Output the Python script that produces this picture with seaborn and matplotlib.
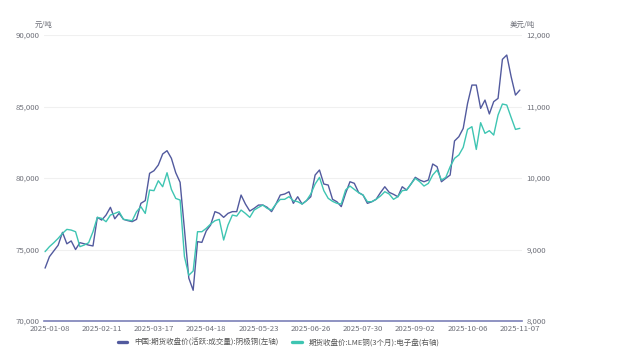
import pandas as pd
import numpy as np
import seaborn as sns
import matplotlib.pyplot as plt
from matplotlib.lines import Line2D

# 中国期货收盘价(活跃:成交量):阴极铜, 元/吨 (left axis)
cn_price = [
    73700, 74500, 74900, 75300, 76200, 75400, 75600, 75000, 75480, 75400,
    75310, 75250, 77250, 77060, 77410, 77950, 77150, 77530, 77110, 77020,
    76950, 77110, 78230, 78420, 80330, 80510, 80910, 81680, 81910, 81380,
    80370, 79700, 76400, 73000, 72150, 75550, 75500, 76300, 76710, 77650,
    77530, 77250, 77530, 77650, 77650, 78810, 78180, 77690, 77880, 78110,
    78110, 77950, 77650, 78180, 78810, 78880, 79040, 78230, 78690, 78180,
    78410, 78690, 80210, 80560, 79580, 79510, 78510, 78340, 78000, 78930,
    79740, 79630, 78980, 78810, 78230, 78340, 78510, 78980, 79390, 79000,
    78860, 78690, 79390, 79160, 79580, 80050, 79860, 79740, 79860, 80980,
    80790, 79740, 79980, 80210, 82590, 82890, 83470, 85220, 86500, 86500,
    84870, 85450, 84480, 85340, 85570, 88300, 88600, 87090, 85800, 86150,
]
# LME铜(3个月):电子盘, 美元/吨 (right axis)
lme_price = [
    8970, 9040, 9095, 9156, 9226, 9282, 9272, 9249, 9040, 9063,
    9095, 9249, 9450, 9436, 9389, 9482, 9505, 9529, 9422, 9412,
    9403, 9529, 9599, 9505, 9832, 9823, 9962, 9878, 10074, 9841,
    9715, 9692, 8900, 8640, 8700, 9249, 9249, 9296, 9356, 9403,
    9422, 9133, 9342, 9482, 9468, 9552, 9505, 9450, 9552, 9589,
    9622, 9575, 9552, 9636, 9701, 9702, 9739, 9683, 9669, 9636,
    9683, 9776, 9916, 10009, 9823, 9716, 9674, 9646, 9636, 9832,
    9888, 9841, 9795, 9762, 9669, 9669, 9702, 9748, 9809, 9776,
    9702, 9739, 9823, 9832, 9916, 9995, 9949, 9888, 9925, 10042,
    10112, 9972, 10009, 10158, 10275, 10322, 10429, 10680, 10718, 10400,
    10774, 10625, 10662, 10601, 10881, 11035, 11021, 10848, 10680, 10695,
]
date_labels = ["2025-01-08", "2025-02-11", "2025-03-17", "2025-04-18", "2025-05-23",
               "2025-06-26", "2025-07-30", "2025-09-02", "2025-10-06", "2025-11-07"]
label_first, label_step = 1, 12

name_cn = "中国:期货收盘价(活跃:成交量):阴极铜(左轴)"
name_lme = "期货收盘价:LME铜(3个月):电子盘(右轴)"
c_cn = "#525a9e"
c_lme = "#3ec5b2"

df = pd.DataFrame({"idx": np.arange(len(cn_price)), "cn": cn_price, "lme": lme_price})

sns.set_theme(style="white")
plt.rcParams['font.family'] = ['Noto Sans CJK SC', 'DejaVu Sans']

fig = plt.figure(figsize=(6.23, 3.52), dpi=100)
ax = fig.add_axes([0.0706, 0.088, 0.7673, 0.8125])
ax2 = ax.twinx()

sns.lineplot(data=df, x="idx", y="cn", ax=ax, color=c_cn, linewidth=1.0)
sns.lineplot(data=df, x="idx", y="lme", ax=ax2, color=c_lme, linewidth=1.0)

ax.set_ylim(70000, 90000)
ax2.set_ylim(8000, 12000)
ax.set_yticks(np.arange(70000, 90001, 5000))
ax2.set_yticks(np.arange(8000, 12001, 1000))
ax.set_yticklabels([f"{v:,}" for v in range(70000, 90001, 5000)])
ax2.set_yticklabels([f"{v:,}" for v in range(8000, 12001, 1000)])
ax.set_xlim(-0.25, len(cn_price) - 0.5)
ax.set_xticks([label_first + label_step * k for k in range(len(date_labels))])
ax.set_xticklabels(date_labels)
ax.set_xlabel("")
ax.set_ylabel("")
ax2.set_ylabel("")

ax.yaxis.grid(True, color="#f0f0f0", linewidth=0.8)
ax.set_axisbelow(True)
for a in (ax, ax2):
    for s in a.spines.values():
        s.set_visible(False)
    a.tick_params(length=0, labelsize=5.6, colors="#6e7079", pad=3)
ax.spines["bottom"].set_visible(True)
ax.spines["bottom"].set_color("#7c80b8")
ax.spines["bottom"].set_linewidth(1.2)

ax.text(0.0, 1.022, "元/吨", transform=ax.transAxes, fontsize=5.4, color="#6e7079", ha="center", va="bottom")
ax2.text(1.0, 1.022, "美元/吨", transform=ax.transAxes, fontsize=5.4, color="#6e7079", ha="center", va="bottom")

handles = [Line2D([0], [0], color=c_cn, lw=2.4), Line2D([0], [0], color=c_lme, lw=2.4)]
fig.legend(handles, [name_cn, name_lme], loc="center", bbox_to_anchor=(0.447, 0.026), ncol=2,
           frameon=False, fontsize=5.4, handlelength=1.3, handletextpad=0.9, columnspacing=1.8,
           labelcolor="#555555")

fig.savefig("out.png", dpi=100)
